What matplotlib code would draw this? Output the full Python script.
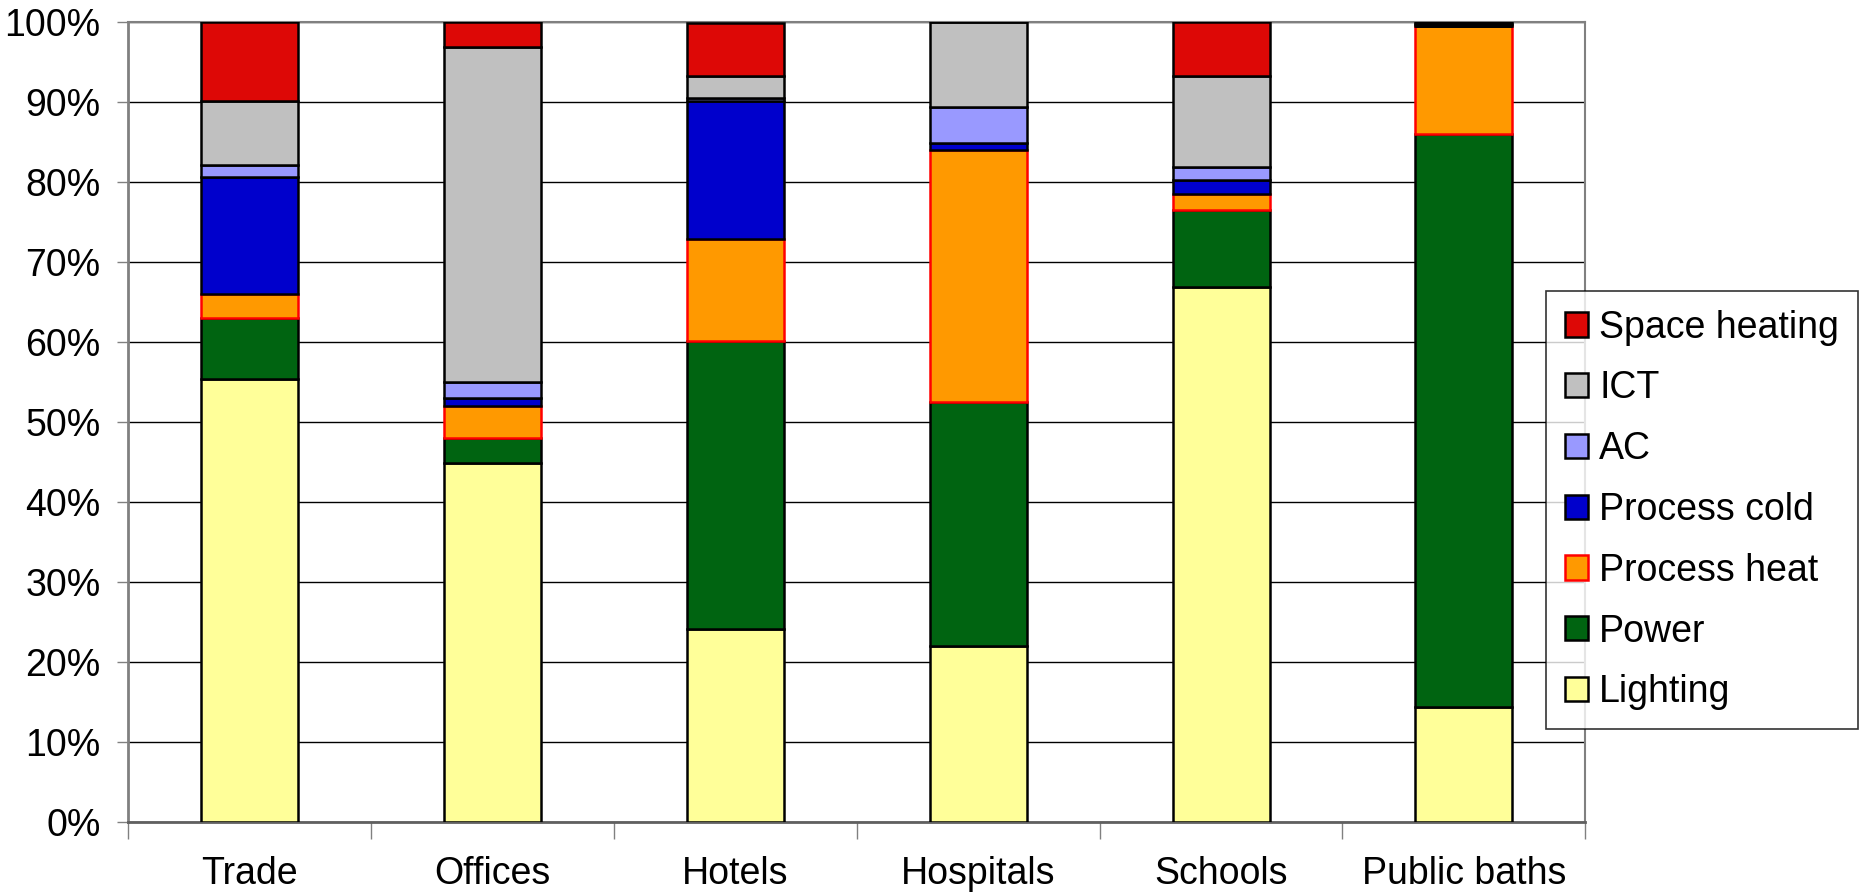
import matplotlib
matplotlib.use('Agg')
import matplotlib.pyplot as plt
import numpy as np

plt.rcParams['font.family'] = ['Liberation Sans', 'DejaVu Sans']

categories = ['Trade', 'Offices', 'Hotels', 'Hospitals', 'Schools', 'Public baths']

# shares in percent, bottom to top of each stack
lighting      = [55.4, 44.9, 24.2, 22.0, 66.9, 14.4]
power         = [7.6, 3.2, 36.0, 30.5, 9.6, 71.6]
process_heat  = [3.1, 4.0, 12.7, 31.5, 2.0, 13.5]
process_cold  = [14.6, 0.9, 17.3, 0.9, 1.8, 0.0]
ac            = [1.5, 2.0, 0.4, 4.5, 1.6, 0.0]
ict           = [8.0, 41.9, 2.7, 10.6, 11.4, 0.3]
space_heating = [9.8, 3.1, 6.6, 0.0, 6.7, 0.2]

series_names = ['Lighting', 'Power', 'Process heat', 'Process cold', 'AC', 'ICT', 'Space heating']
series_vals = [lighting, power, process_heat, process_cold, ac, ict, space_heating]
fill_colors = ['#FFFF99', '#006411', '#FF9900', '#0000CC', '#9999FF', '#C0C0C0', '#DD0806']
edge_colors = ['black', 'black', '#FF0000', 'black', 'black', 'black', 'black']

fig = plt.figure(figsize=(18.65, 8.96), dpi=100)
ax = fig.add_axes([0.0689, 0.0822, 0.850 - 0.0689, 0.975 - 0.0822])

x = np.arange(len(categories))
bottom = np.zeros(len(categories))
handles = []
for name, vals, fc, ec in zip(series_names, series_vals, fill_colors, edge_colors):
    vals = np.array(vals, dtype=float)
    b = ax.bar(x, vals, 0.4, bottom=bottom, color=fc, edgecolor=ec,
               linewidth=1.8, label=name, zorder=3)
    handles.append(b)
    bottom += vals

ax.set_xlim(-0.5, len(categories) - 0.5)
ax.set_ylim(0, 100)
ax.set_yticks(np.arange(0, 101, 10))
ax.set_yticklabels(['%d%%' % v for v in range(0, 101, 10)])
ax.yaxis.grid(True, color='black', linewidth=1.0, zorder=0)
ax.set_axisbelow(True)

ax.set_xticks(x)
ax.set_xticklabels(categories)
ax.set_xticks(np.arange(-0.5, len(categories)), minor=True)
ax.tick_params(axis='x', which='major', length=0, pad=24, labelsize=27)
ax.tick_params(axis='x', which='minor', length=12, width=1.0, color='#808080', direction='out')
ax.tick_params(axis='y', which='major', length=8, width=1.0, color='#808080',
               direction='out', pad=12, labelsize=27)

for side in ['top', 'right']:
    ax.spines[side].set_color('#808080')
    ax.spines[side].set_linewidth(1.5)
ax.spines['left'].set_color('#808080')
ax.spines['left'].set_linewidth(2.0)
ax.spines['bottom'].set_color('#606060')
ax.spines['bottom'].set_linewidth(2.0)

leg = ax.legend(handles[::-1], series_names[::-1], loc='upper left',
                bbox_to_anchor=(1546 / 1865, 1 - 291 / 896), bbox_transform=fig.transFigure,
                borderaxespad=0, fontsize=27, frameon=True, fancybox=False,
                edgecolor='black', handlelength=0.62, handleheight=0.62,
                handletextpad=0.3, labelspacing=0.66, borderpad=0.5)
leg.get_frame().set_linewidth(1.2)

fig.savefig('out.png', dpi=100)
